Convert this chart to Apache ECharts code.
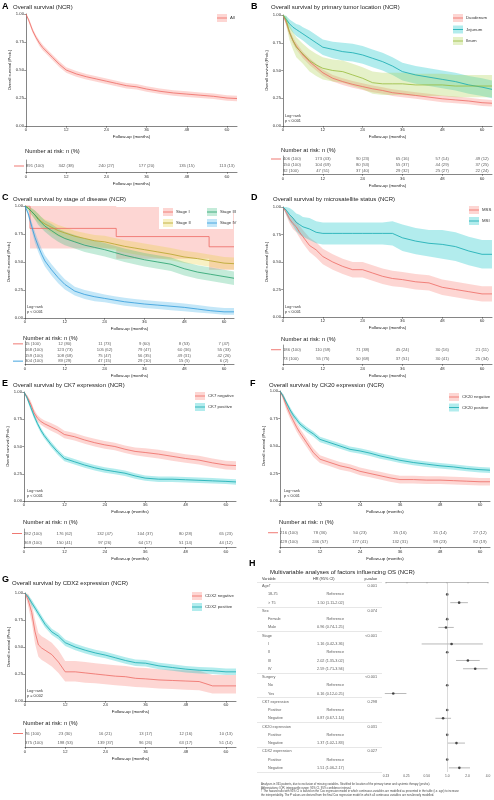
<!DOCTYPE html>
<html>
<head>
<meta charset="utf-8">
<script src="https://cdn.jsdelivr.net/npm/echarts@6/dist/echarts.min.js"></script>
<style>
  html, body { margin: 0; padding: 0; background: #fff; }
  #chart { width: 494px; height: 800px; }
</style>
</head>
<body>
<div id="chart"></div>
<script>
const FONT = '"Liberation Sans", Arial, sans-serif'

// ---- data ----
const months = [0, 1, 2, 3, 4, 5, 6, 8, 10, 12, 15, 18, 21, 24, 27, 30, 33, 36, 40, 44, 48, 52, 56, 60, 63]
const riskTicks = [0, 12, 24, 36, 48, 60]

// A: all patients
const allEst = [1, .93, .85, .79, .74, .70, .67, .61, .55, .50, .465, .44, .42, .40, .38, .36, .35, .33, .31, .295, .285, .275, .265, .25, .245]
const allLo = [1, .91, .83, .77, .715, .675, .645, .585, .525, .475, .44, .415, .395, .375, .355, .335, .325, .305, .285, .27, .26, .25, .24, .225, .22]
const allHi = [1, .95, .87, .81, .765, .725, .695, .635, .575, .525, .49, .465, .445, .425, .405, .385, .375, .355, .335, .32, .31, .30, .29, .275, .27]

// B: tumor location
const duoEst = [1, .93, .84, .77, .72, .68, .64, .58, .53, .48, .43, .40, .375, .355, .335, .32, .30, .29, .275, .26, .245, .235, .225, .21, .205]
const duoLo = [1, .905, .81, .74, .69, .65, .61, .55, .50, .45, .40, .37, .345, .325, .305, .29, .27, .26, .245, .23, .215, .205, .195, .18, .175]
const duoHi = [1, .955, .87, .80, .75, .71, .67, .61, .56, .51, .46, .43, .405, .385, .365, .35, .33, .32, .305, .29, .275, .265, .255, .24, .235]
const jejEst = [1, .96, .92, .89, .87, .85, .83, .79, .75, .71, .69, .67, .66, .64, .61, .58, .54, .49, .46, .44, .42, .40, .37, .35, .33]
const jejLo = [1, .93, .88, .84, .81, .79, .77, .72, .68, .64, .61, .59, .58, .56, .53, .50, .46, .41, .38, .36, .34, .32, .29, .27, .25]
const jejHi = [1, .99, .96, .94, .92, .91, .89, .86, .82, .78, .76, .75, .74, .72, .69, .66, .62, .57, .54, .52, .50, .48, .45, .43, .41]
const ileEst = [1, .95, .84, .77, .71, .68, .65, .59, .55, .52, .50, .49, .46, .43, .39, .38, .38, .38, .37, .37, .37, .36, .36, .36, .36]
const ileLo = [1, .90, .77, .69, .62, .59, .56, .49, .45, .42, .40, .39, .36, .33, .29, .28, .28, .28, .27, .27, .27, .26, .26, .26, .26]
const ileHi = [1, .99, .91, .85, .80, .77, .74, .69, .65, .62, .60, .59, .56, .53, .49, .48, .48, .48, .47, .47, .47, .46, .46, .46, .46]

// C: stage (stage I has its own event times)
const s1Months = [0, 1.5, 1.5, 27.5, 27.5, 55.5, 55.5, 63]
const s1Est = [1, 1, .80, .80, .727, .727, .636, .636]
const s1Lo = [1, 1, .62, .62, .53, .53, .43, .43]
const s1Hi = [1, 1, 1, 1, .99, .99, .94, .94]
const s2Est = [1, .98, .95, .92, .89, .86, .84, .81, .78, .76, .73, .71, .69, .68, .66, .64, .625, .61, .59, .57, .545, .53, .51, .49, .485]
const s2Lo = [1, .96, .92, .88, .85, .82, .80, .76, .73, .71, .68, .66, .64, .625, .605, .585, .57, .555, .535, .515, .49, .475, .455, .435, .43]
const s2Hi = [1, 1, .98, .96, .93, .90, .88, .86, .83, .81, .78, .76, .74, .735, .715, .695, .68, .665, .645, .625, .60, .585, .565, .545, .54]
const s3Est = [1, .98, .95, .92, .88, .85, .82, .78, .74, .71, .68, .65, .63, .61, .585, .56, .54, .52, .50, .48, .44, .41, .39, .37, .355]
const s3Lo = [1, .96, .92, .88, .83, .80, .77, .72, .68, .65, .62, .59, .57, .55, .525, .50, .48, .46, .44, .42, .38, .35, .33, .31, .295]
const s3Hi = [1, 1, .98, .96, .93, .90, .87, .84, .80, .77, .74, .71, .69, .67, .645, .62, .60, .58, .56, .54, .50, .47, .45, .43, .415]
const s4Est = [1, .93, .82, .72, .64, .57, .51, .43, .36, .30, .24, .21, .19, .175, .16, .145, .135, .125, .115, .105, .095, .08, .065, .055, .055]
const s4Lo = [1, .90, .78, .67, .59, .52, .46, .38, .31, .255, .20, .17, .15, .14, .125, .11, .10, .09, .08, .07, .06, .05, .04, .03, .03]
const s4Hi = [1, .96, .86, .77, .69, .62, .56, .48, .41, .345, .28, .25, .23, .21, .195, .18, .17, .16, .15, .14, .13, .115, .10, .09, .09]

// D: microsatellite status
const mssEst = [1, .95, .89, .85, .82, .77, .73, .65, .61, .55, .50, .46, .43, .43, .40, .37, .35, .34, .32, .31, .27, .25, .23, .21, .21]
const mssLo = [1, .92, .85, .80, .77, .72, .67, .59, .54, .48, .43, .39, .36, .36, .33, .30, .28, .27, .25, .24, .20, .18, .16, .14, .14]
const mssHi = [1, .98, .93, .90, .87, .83, .79, .72, .68, .62, .57, .53, .50, .50, .47, .44, .42, .41, .39, .38, .34, .32, .30, .28, .28]
const msiEst = [1, .97, .93, .90, .86, .84, .82, .80, .77, .76, .76, .76, .76, .76, .76, .76, .76, .72, .69, .67, .66, .64, .60, .57, .57]
const msiLo = [1, .93, .87, .83, .78, .75, .73, .70, .67, .66, .66, .66, .66, .66, .66, .66, .65, .60, .57, .55, .53, .51, .47, .44, .44]
const msiHi = [1, 1, .99, .97, .94, .93, .91, .90, .87, .86, .86, .86, .86, .86, .86, .86, .87, .84, .81, .79, .79, .77, .73, .70, .70]

// E: CK7
const ck7nEst = [1, .95, .89, .81, .76, .73, .71, .68, .65, .61, .59, .56, .535, .515, .50, .475, .455, .445, .43, .41, .39, .375, .35, .33, .325]
const ck7nLo = [1, .93, .86, .78, .73, .70, .68, .645, .615, .575, .555, .525, .50, .48, .465, .44, .42, .405, .39, .37, .35, .335, .31, .29, .285]
const ck7nHi = [1, .97, .92, .84, .79, .76, .74, .715, .685, .645, .625, .595, .57, .55, .535, .51, .49, .485, .47, .45, .43, .415, .39, .37, .365]
const ck7pEst = [1, .94, .86, .78, .71, .65, .60, .52, .45, .39, .36, .33, .305, .285, .27, .255, .23, .21, .20, .20, .195, .19, .185, .18, .175]
const ck7pLo = [1, .92, .835, .755, .685, .625, .575, .495, .425, .365, .335, .305, .28, .26, .245, .23, .205, .185, .175, .175, .17, .165, .16, .155, .15]
const ck7pHi = [1, .96, .885, .805, .735, .675, .625, .545, .475, .415, .385, .355, .33, .31, .295, .28, .255, .235, .225, .225, .22, .215, .21, .205, .20]

// F: CK20
const ck20nEst = [1, .94, .86, .79, .73, .67, .62, .53, .44, .38, .35, .32, .30, .27, .25, .23, .21, .195, .195, .19, .19, .185, .18, .175, .175]
const ck20nLo = [1, .91, .82, .75, .69, .63, .58, .49, .40, .345, .315, .285, .265, .235, .215, .195, .175, .16, .16, .155, .155, .15, .145, .14, .14]
const ck20nHi = [1, .97, .90, .83, .77, .71, .66, .57, .48, .415, .385, .355, .335, .305, .285, .265, .245, .23, .23, .225, .225, .22, .215, .21, .21]
const ck20pEst = [1, .95, .89, .83, .78, .74, .70, .65, .61, .56, .53, .50, .47, .455, .435, .41, .39, .37, .35, .335, .32, .31, .295, .285, .28]
const ck20pLo = [1, .93, .87, .805, .755, .715, .675, .625, .585, .535, .505, .475, .445, .43, .41, .385, .365, .345, .325, .31, .295, .285, .27, .26, .255]
const ck20pHi = [1, .97, .91, .855, .805, .765, .725, .675, .635, .585, .555, .525, .495, .48, .46, .435, .415, .395, .375, .36, .345, .335, .32, .31, .305]

// G: CDX2
const cdxnEst = [1, .93, .82, .64, .52, .49, .47, .43, .36, .27, .27, .26, .25, .24, .23, .225, .21, .205, .195, .19, .185, .18, .14, .14, .14]
const cdxnLo = [1, .87, .73, .53, .41, .38, .36, .32, .26, .18, .18, .17, .165, .155, .145, .14, .13, .125, .115, .11, .105, .10, .07, .07, .07]
const cdxnHi = [1, .99, .91, .75, .63, .60, .58, .54, .47, .37, .37, .36, .35, .34, .33, .325, .31, .305, .295, .29, .285, .28, .24, .24, .24]
const cdxpEst = [1, .96, .91, .86, .81, .76, .71, .64, .60, .54, .50, .47, .445, .425, .40, .375, .355, .35, .325, .31, .295, .285, .28, .27, .27]
const cdxpLo = [1, .94, .88, .83, .78, .73, .68, .61, .57, .51, .47, .44, .415, .395, .37, .345, .325, .32, .295, .28, .265, .255, .25, .24, .24]
const cdxpHi = [1, .98, .94, .89, .84, .79, .74, .67, .63, .57, .53, .50, .475, .455, .43, .405, .385, .38, .355, .34, .325, .315, .31, .30, .30]

// number at risk tables
const riskA = [['891 (100)', '342 (38)', '240 (27)', '177 (20)', '135 (15)', '113 (13)']]
const riskB = [
  ['406 (100)', '173 (43)', '90 (23)', '65 (16)', '57 (14)', '49 (12)'],
  ['150 (100)', '104 (69)', '80 (53)', '55 (37)', '44 (29)', '37 (25)'],
  ['92 (100)', '47 (51)', '37 (40)', '29 (32)', '25 (27)', '22 (24)']
]
const riskC = [
  ['15 (100)', '12 (80)', '11 (73)', '9 (60)', '8 (53)', '7 (47)'],
  ['168 (100)', '123 (73)', '105 (62)', '79 (47)', '60 (36)', '55 (33)'],
  ['159 (100)', '108 (68)', '75 (47)', '56 (35)', '49 (31)', '42 (26)'],
  ['304 (100)', '89 (29)', '47 (15)', '29 (10)', '15 (5)', '6 (2)']
]
const riskD = [
  ['186 (100)', '110 (59)', '71 (38)', '45 (24)', '30 (16)', '21 (11)'],
  ['73 (100)', '55 (75)', '50 (68)', '37 (51)', '30 (41)', '25 (34)']
]
const riskE = [
  ['282 (100)', '176 (62)', '132 (47)', '104 (37)', '80 (28)', '65 (23)'],
  ['369 (100)', '150 (41)', '97 (26)', '64 (17)', '51 (14)', '44 (12)']
]
const riskF = [
  ['216 (100)', '78 (36)', '50 (23)', '35 (16)', '31 (14)', '27 (12)'],
  ['429 (100)', '246 (57)', '177 (41)', '132 (31)', '99 (23)', '82 (19)']
]
const riskG = [
  ['76 (100)', '23 (30)', '16 (21)', '13 (17)', '12 (16)', '10 (13)'],
  ['375 (100)', '198 (53)', '139 (37)', '96 (26)', '63 (17)', '51 (14)']
]

// H: multivariable Cox model
const forestVars = ['Age†', '18-75', '> 75', 'Sex', 'Female', 'Male', 'Stage', 'I', 'II', 'III', 'IV',
  'Surgery', 'No', 'Yes', 'CK7 expression', 'Positive', 'Negative', 'CK20 expression', 'Positive', 'Negative',
  'CDX2 expression', 'Positive', 'Negative']
const forestHeader = [1, 0, 0, 1, 0, 0, 1, 0, 0, 0, 0, 1, 0, 0, 1, 0, 0, 1, 0, 0, 1, 0, 0]
const forestHR = [null, 1, 1.50, null, 1, 0.96, null, 1.16, 1, 2.02, 2.59, null, 1, 0.16, null, 1, 0.87, null, 1, 1.37, null, 1, 1.51]
const forestLo = [null, null, 1.11, null, null, 0.74, null, 0.42, null, 1.35, 1.71, null, null, 0.12, null, null, 0.67, null, null, 1.02, null, null, 1.06]
const forestHi = [null, null, 2.02, null, null, 1.25, null, 3.36, null, 3.02, 3.94, null, null, 0.25, null, null, 1.14, null, null, 1.83, null, null, 2.17]
const forestP = ['0.001', '', '', '0.074', '', '', '<0.001', '', '', '', '', '<0.001', '', '', '0.298', '', '', '0.031', '', '', '0.027', '', '']
const footnotes = [
  'Analyses in 361 patients, due to exclusion of missing variables. Stratified for location of the primary tumor and systemic therapy (yes/no).',
  'Abbreviations: IQR, interquartile range; 95% CI, 95% confidence interval.',
  '† The hazard ratio with 95% CI is based on the Cox regression model in which continuous variables are modelled as presented in the table (i.e. age) to increase',
  'the interpretability. The P values are derived from the final Cox regression model in which all continuous variables are non-linearly modelled.'
]

// ---- colours ----
const RED = {line: '#EE6A63', band: '#F8766D'}
const TEAL = {line: '#12AAB0', band: '#00BFC4'}
const ILEUM = {line: '#97BA3A', band: '#A8D04A'}
const ST1 = {line: '#EE6A63', band: '#F8766D'}
const ST2 = {line: '#B5A52A', band: '#E7CF3A'}
const ST3 = {line: '#23A06B', band: '#3CBD80'}
const ST4 = {line: '#2E9ADB', band: '#3AAEE8'}

const grids = []
const xAxes = []
const yAxes = []
const series = []
const graphics = []

function xAxisCfg (gi, margin, gap) {
  return {
    type: 'value', gridIndex: gi, min: 0, max: 63,
    name: 'Follow-up (months)', nameLocation: 'middle', nameGap: gap,
    nameTextStyle: {fontSize: 4.4, color: '#222', fontFamily: FONT},
    axisLine: {show: true, lineStyle: {color: '#333', width: 0.6}},
    axisTick: {show: true, length: 1.8, lineStyle: {color: '#333', width: 0.5}, customValues: riskTicks},
    axisLabel: {fontSize: 4.2, color: '#333', margin: margin, fontFamily: FONT, customValues: riskTicks},
    splitLine: {show: false}
  }
}

function bandSeries (gi, t, lo, hi, color) {
  return {
    type: 'custom', xAxisIndex: gi, yAxisIndex: gi, z: 1, silent: true, clip: true,
    data: t.map((m, i) => [m, lo[i], hi[i]]),
    encode: {x: 0, y: [1, 2]},
    renderItem: function (params, api) {
      if (params.dataIndexInside !== 0) return null
      const n = params.dataInsideLength
      const top = []
      const bot = []
      for (let i = 0; i < n; i++) {
        const x = api.value(0, i)
        top.push(api.coord([x, api.value(2, i)]))
        bot.unshift(api.coord([x, api.value(1, i)]))
      }
      return {type: 'polygon', shape: {points: top.concat(bot)}, style: {fill: color, opacity: 0.3}}
    }
  }
}

function kmPanel (box, curves) {
  const gi = grids.length
  grids.push(box)
  xAxes.push(xAxisCfg(gi, 2, 8.5))
  yAxes.push({
    type: 'value', gridIndex: gi, min: 0, max: 1, interval: 0.25,
    name: 'Overall survival (Prob.)', nameLocation: 'middle', nameGap: 14,
    nameTextStyle: {fontSize: 4, color: '#222', fontFamily: FONT},
    axisLine: {show: true, lineStyle: {color: '#333', width: 0.6}},
    axisTick: {show: true, length: 1.8, lineStyle: {color: '#333', width: 0.5}},
    axisLabel: {fontSize: 4.2, color: '#333', margin: 2, fontFamily: FONT, formatter: v => v.toFixed(2)},
    splitLine: {show: false}
  })
  curves.forEach(c => series.push(bandSeries(gi, c.t || months, c.lo, c.hi, c.col.band)))
  curves.forEach(c => {
    const t = c.t || months
    series.push({
      type: 'line', name: c.name, xAxisIndex: gi, yAxisIndex: gi, z: 3, silent: true,
      symbol: 'none', animation: false,
      lineStyle: {color: c.col.line, width: 0.8},
      data: t.map((m, i) => [m, c.est[i]])
    })
  })
}

function riskPanel (box, rows, cols) {
  const gi = grids.length
  grids.push(box)
  xAxes.push(xAxisCfg(gi, 3, 9.5))
  const rich = {}
  cols.forEach((c, i) => { rich['k' + i] = {width: 10, height: 0.9, fontSize: 1, lineHeight: 1, backgroundColor: c.line} })
  yAxes.push({
    type: 'category', gridIndex: gi, inverse: true,
    data: rows.map((r, i) => String(i)),
    axisLine: {show: true, lineStyle: {color: '#333', width: 0.5}},
    axisTick: {show: false},
    axisLabel: {margin: 2, formatter: (v, i) => '{k' + i + '| }', rich: rich}
  })
  const data = []
  rows.forEach((row, r) => row.forEach((txt, j) => {
    data.push({name: txt, value: [riskTicks[j], r], label: {align: j === 0 ? 'left' : 'center'}})
  }))
  series.push({
    type: 'scatter', xAxisIndex: gi, yAxisIndex: gi, symbolSize: 0, silent: true,
    itemStyle: {color: 'transparent'},
    label: {show: true, position: 'inside', formatter: '{b}', fontSize: 4.2, color: '#333', fontFamily: FONT},
    data: data
  })
}

function text (x, y, str, size, extra) {
  return Object.assign({
    type: 'text', x: x, y: y, z: 100, silent: true,
    style: Object.assign({
      text: str, fontSize: size, fontFamily: FONT, fill: '#111',
      verticalAlign: 'middle', textVerticalAlign: 'middle'
    }, extra || {})
  })
}

function heading (lx, ly, letter, tx, ty, title) {
  graphics.push(text(lx, ly, letter, 9, {fontWeight: 'bold', fill: '#000'}))
  graphics.push(text(tx, ty, title, 6, {fill: '#222'}))
}

function legend (x, y, step, items) {
  items.forEach((it, i) => {
    const cy = y + i * step
    graphics.push({type: 'rect', z: 100, silent: true, shape: {x: x, y: cy - 4, width: 10, height: 8}, style: {fill: it.col.band, opacity: 0.3}})
    graphics.push({type: 'line', z: 101, silent: true, shape: {x1: x, y1: cy, x2: x + 10, y2: cy}, style: {stroke: it.col.line, lineWidth: 0.8}})
    graphics.push(text(x + 13, cy, it.name, 4.3, {fill: '#333'}))
  })
}

function logRank (x, y, p) {
  graphics.push(text(x, y, 'Log−rank', 3.8, {fill: '#333'}))
  graphics.push(text(x, y + 4.8, p, 3.8, {fill: '#333'}))
}

// ---- A ----
heading(2, 7, 'A', 13, 7.5, 'Overall survival (NCR)')
kmPanel({left: 26, top: 14, width: 211, height: 112}, [{name: 'All', col: RED, est: allEst, lo: allLo, hi: allHi}])
legend(217, 18, 11, [{name: 'All', col: RED}])
graphics.push(text(25, 151, 'Number at risk: n (%)', 5.8, {fill: '#222'}))
riskPanel({left: 26, top: 160, width: 211, height: 12}, riskA, [RED])

// ---- B ----
heading(251, 7, 'B', 271, 7.5, 'Overall survival by primary tumor location (NCR)')
kmPanel({left: 283, top: 15, width: 209, height: 111}, [
  {name: 'Duodenum', col: RED, est: duoEst, lo: duoLo, hi: duoHi},
  {name: 'Jejunum', col: TEAL, est: jejEst, lo: jejLo, hi: jejHi},
  {name: 'Ileum', col: ILEUM, est: ileEst, lo: ileLo, hi: ileHi}
])
legend(453, 18, 11.5, [{name: 'Duodenum', col: RED}, {name: 'Jejunum', col: TEAL}, {name: 'Ileum', col: ILEUM}])
logRank(285, 116, 'p < 0.001')
graphics.push(text(281, 150, 'Number at risk: n (%)', 5.8, {fill: '#222'}))
riskPanel({left: 283, top: 156, width: 209, height: 18}, riskB, [RED, TEAL, ILEUM])

// ---- C ----
heading(2, 198, 'C', 13, 199.5, 'Overall survival by stage of disease (NCR)')
kmPanel({left: 25, top: 206, width: 209, height: 112}, [
  {name: 'Stage I', col: ST1, t: s1Months, est: s1Est, lo: s1Lo, hi: s1Hi},
  {name: 'Stage II', col: ST2, est: s2Est, lo: s2Lo, hi: s2Hi},
  {name: 'Stage III', col: ST3, est: s3Est, lo: s3Lo, hi: s3Hi},
  {name: 'Stage IV', col: ST4, est: s4Est, lo: s4Lo, hi: s4Hi}
])
graphics.push({type: 'rect', z: 99, silent: true, shape: {x: 159, y: 206, width: 74, height: 23}, style: {fill: '#fff'}})
legend(163, 212, 11, [{name: 'Stage I', col: ST1}, {name: 'Stage II', col: ST2}])
legend(207, 212, 11, [{name: 'Stage III', col: ST3}, {name: 'Stage IV', col: ST4}])
logRank(27, 307, 'p < 0.001')
graphics.push(text(23, 338, 'Number at risk: n (%)', 5.8, {fill: '#222'}))
riskPanel({left: 25, top: 341, width: 209, height: 23}, riskC, [ST1, ST2, ST3, ST4])

// ---- D ----
heading(251, 198, 'D', 273, 199.5, 'Overall survival by microsatellite status (NCR)')
kmPanel({left: 283, top: 207, width: 209, height: 110}, [
  {name: 'MSS', col: RED, est: mssEst, lo: mssLo, hi: mssHi},
  {name: 'MSI', col: TEAL, est: msiEst, lo: msiLo, hi: msiHi}
])
legend(469, 210, 11, [{name: 'MSS', col: RED}, {name: 'MSI', col: TEAL}])
logRank(285, 307, 'p < 0.001')
graphics.push(text(281, 339, 'Number at risk: n (%)', 5.8, {fill: '#222'}))
riskPanel({left: 283, top: 345, width: 209, height: 19}, riskD, [RED, TEAL])

// ---- E ----
heading(2, 384, 'E', 13, 385, 'Overall survival by CK7 expression (NCR)')
kmPanel({left: 24, top: 392, width: 212, height: 109}, [
  {name: 'CK7 negative', col: RED, est: ck7nEst, lo: ck7nLo, hi: ck7nHi},
  {name: 'CK7 positive', col: TEAL, est: ck7pEst, lo: ck7pLo, hi: ck7pHi}
])
legend(195, 396, 11, [{name: 'CK7 negative', col: RED}, {name: 'CK7 positive', col: TEAL}])
logRank(27, 491, 'p < 0.001')
graphics.push(text(23, 522, 'Number at risk: n (%)', 5.8, {fill: '#222'}))
riskPanel({left: 24, top: 529, width: 212, height: 18}, riskE, [RED, TEAL])

// ---- F ----
heading(250, 384, 'F', 269, 385, 'Overall survival by CK20 expression (NCR)')
kmPanel({left: 280, top: 391, width: 210, height: 110}, [
  {name: 'CK20 negative', col: RED, est: ck20nEst, lo: ck20nLo, hi: ck20nHi},
  {name: 'CK20 positive', col: TEAL, est: ck20pEst, lo: ck20pLo, hi: ck20pHi}
])
legend(449, 397, 10.5, [{name: 'CK20 negative', col: RED}, {name: 'CK20 positive', col: TEAL}])
logRank(284, 491, 'p < 0.001')
graphics.push(text(279, 522, 'Number at risk: n (%)', 5.8, {fill: '#222'}))
riskPanel({left: 280, top: 528, width: 210, height: 19}, riskF, [RED, TEAL])

// ---- G ----
heading(2, 580, 'G', 12, 583.5, 'Overall survival by CDX2 expression (NCR)')
kmPanel({left: 25, top: 593, width: 211, height: 108}, [
  {name: 'CDX2 negative', col: RED, est: cdxnEst, lo: cdxnLo, hi: cdxnHi},
  {name: 'CDX2 positive', col: TEAL, est: cdxpEst, lo: cdxpLo, hi: cdxpHi}
])
legend(192, 596, 11, [{name: 'CDX2 negative', col: RED}, {name: 'CDX2 positive', col: TEAL}])
logRank(27, 691, 'p = 0.002')
graphics.push(text(23, 723, 'Number at risk: n (%)', 5.8, {fill: '#222'}))
riskPanel({left: 25, top: 729, width: 211, height: 18}, riskG, [RED, TEAL])

// ---- H: table + forest plot ----
heading(249, 564, 'H', 270, 572, 'Multivariable analyses of factors influencing OS (NCR)')
const nRows = forestVars.length
const hrText = forestHR.map((v, i) => v == null ? '' : (forestLo[i] == null ? 'Reference'
  : v.toFixed(2) + ' (' + forestLo[i].toFixed(2) + '-' + forestHi[i].toFixed(2) + ')'))

// table grid: x in px from its left edge, y in row units
const tg = grids.length
grids.push({left: 257, top: 582, width: 125, height: 190})
xAxes.push({type: 'value', gridIndex: tg, min: 0, max: 125, show: false})
yAxes.push({type: 'value', gridIndex: tg, min: 0, max: nRows, inverse: true, show: false})
const tLabel = {show: true, position: 'inside', formatter: '{b}', fontSize: 3.8, color: '#333', fontFamily: FONT}
series.push({
  type: 'scatter', xAxisIndex: tg, yAxisIndex: tg, symbolSize: 0, silent: true, itemStyle: {color: 'transparent'},
  label: Object.assign({}, tLabel, {align: 'left'}),
  data: forestVars.map((v, i) => ({name: v, value: [forestHeader[i] ? 5 : 11, i + 0.5]})),
  markLine: {
    silent: true, symbol: 'none', label: {show: false},
    lineStyle: {color: '#cfcfcf', width: 0.5, type: 'solid'},
    data: [0, 3, 6, 11, 14, 17, 20, 23].map(v => ({yAxis: v}))
  }
})
series.push({
  type: 'scatter', xAxisIndex: tg, yAxisIndex: tg, symbolSize: 0, silent: true, itemStyle: {color: 'transparent'},
  label: Object.assign({}, tLabel, {align: 'right'}),
  data: hrText.map((v, i) => ({name: v, value: [87, i + 0.5]})).filter(d => d.name)
})
series.push({
  type: 'scatter', xAxisIndex: tg, yAxisIndex: tg, symbolSize: 0, silent: true, itemStyle: {color: 'transparent'},
  label: Object.assign({}, tLabel, {align: 'right'}),
  data: forestP.map((v, i) => ({name: v, value: [120, i + 0.5]})).filter(d => d.name)
})
graphics.push(text(262, 578.5, 'Variable', 3.8, {fill: '#333'}))
graphics.push(text(313, 578.5, 'HR (95% CI)', 3.8, {fill: '#333'}))
graphics.push(text(377, 578.5, 'p-value', 3.8, {fill: '#333', align: 'right', textAlign: 'right'}))

// forest grid, log2 hazard-ratio axis
const fg = grids.length
grids.push({left: 386, top: 582, width: 102, height: 190})
xAxes.push({
  type: 'log', logBase: 2, gridIndex: fg, min: 0.125, max: 4,
  axisLine: {show: true, lineStyle: {color: '#777', width: 0.5}},
  axisTick: {show: true, length: 1.5, lineStyle: {color: '#777', width: 0.4}},
  axisLabel: {fontSize: 3.3, color: '#555', margin: 3, fontFamily: FONT, formatter: v => v < 1 ? v.toFixed(2) : v.toFixed(1)},
  splitLine: {show: false}
})
yAxes.push({type: 'value', gridIndex: fg, min: 0, max: nRows, inverse: true, show: false})
series.push({
  type: 'custom', xAxisIndex: fg, yAxisIndex: fg, silent: true, z: 2,
  data: forestLo.map((lo, i) => lo == null ? null : [lo, forestHi[i], i + 0.5]).filter(d => d),
  encode: {x: [0, 1], y: 2},
  renderItem: function (params, api) {
    const a = api.coord([api.value(0), api.value(2)])
    const b = api.coord([api.value(1), api.value(2)])
    return {type: 'line', shape: {x1: a[0], y1: a[1], x2: b[0], y2: b[1]}, style: {stroke: '#8a8a8a', lineWidth: 0.6}}
  }
})
series.push({
  type: 'scatter', xAxisIndex: fg, yAxisIndex: fg, silent: true, z: 3,
  symbol: 'circle', symbolSize: 2.6, itemStyle: {color: '#222'},
  data: forestHR.map((v, i) => v == null ? null : [v, i + 0.5]).filter(d => d),
  markLine: {
    silent: true, symbol: 'none', label: {show: false},
    lineStyle: {color: '#b5b5b5', width: 0.5, type: 'solid'},
    data: [{xAxis: 1}]
  }
})
footnotes.forEach((f, i) => graphics.push(text(261, 784.5 + i * 3.5, f, 2.8, {fill: '#444'})))

const chart = echarts.init(document.getElementById('chart'))
chart.setOption({
  animation: false,
  backgroundColor: '#fff',
  textStyle: {fontFamily: FONT},
  grid: grids,
  xAxis: xAxes,
  yAxis: yAxes,
  series: series,
  graphic: {elements: graphics}
})
</script>
</body>
</html>
